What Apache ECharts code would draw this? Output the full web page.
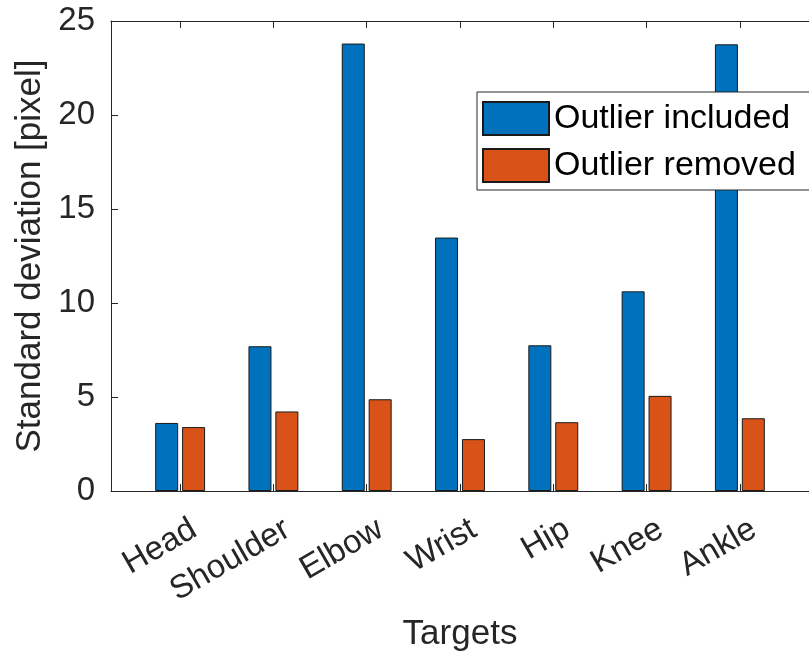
<!DOCTYPE html>
<html><head><meta charset="utf-8">
<script src="https://cdn.jsdelivr.net/npm/echarts@6/dist/echarts.min.js"></script>
<style>html,body{margin:0;padding:0;background:#fff}#c{width:809px;height:657px}</style>
</head><body><div id="c"></div>
<script>
const categories = ["Head","Shoulder","Elbow","Wrist","Hip","Knee","Ankle"];
const outlierIncluded = [3.62, 7.70, 23.80, 13.48, 7.75, 10.62, 23.76];
const outlierRemoved = [3.40, 4.23, 4.88, 2.76, 3.66, 5.06, 3.87];
const yTicks = [0, 5, 10, 15, 20, 25];

const positions = categories.map((_, i) => i + 1);
const labelPositions = positions.map(p => p + 0.15);
const FONT = '"Liberation Sans", Arial, Helvetica, sans-serif';
const TXT = '#262626';
const AX = '#262626';

const chart = echarts.init(document.getElementById('c'), null, {renderer: 'canvas'});
chart.setOption({
  animation: false,
  backgroundColor: '#ffffff',
  textStyle: {fontFamily: FONT},
  grid: {left: 111, top: 21, bottom: 165, right: -9, containLabel: false},
  legend: {
    orient: 'vertical', left: 477, top: 92,
    padding: [9, 15, 7, 5], itemGap: 12,
    itemWidth: 66, itemHeight: 33, icon: 'rect',
    backgroundColor: '#ffffff', borderColor: '#262626', borderWidth: 1,
    textStyle: {fontSize: 34, lineHeight: 33, color: '#000', fontFamily: FONT},
    data: ['Outlier included', 'Outlier removed']
  },
  xAxis: [{
    type: 'value', min: 0.259, max: 7.741, position: 'bottom',
    name: 'Targets', nameLocation: 'middle', nameGap: 126,
    nameTextStyle: {fontSize: 35, color: TXT, fontFamily: FONT},
    splitLine: {show: false},
    axisLine: {show: true, lineStyle: {color: AX, width: 1}},
    axisTick: {show: true, inside: true, length: 7, customValues: positions, lineStyle: {color: AX}},
    axisLabel: {show: true, customValues: labelPositions, rotate: 30, margin: 36,
      fontSize: 33, color: TXT, fontFamily: FONT,
      formatter: v => categories[Math.round(v) - 1] || ''}
  }, {
    type: 'value', min: 0.259, max: 7.741, position: 'top',
    splitLine: {show: false},
    axisLine: {show: true, lineStyle: {color: AX, width: 1}},
    axisTick: {show: true, inside: true, length: 7, customValues: positions, lineStyle: {color: AX}},
    axisLabel: {show: false}
  }],
  yAxis: {
    type: 'value', min: 0, max: 25, interval: 5,
    name: 'Standard deviation [pixel]', nameLocation: 'middle', nameGap: 58,
    nameTextStyle: {fontSize: 35, color: TXT, fontFamily: FONT},
    splitLine: {show: false},
    axisLine: {show: true, lineStyle: {color: AX, width: 1}},
    axisTick: {show: true, inside: true, length: 7, lineStyle: {color: AX}},
    axisLabel: {fontSize: 33, color: TXT, margin: 16, fontFamily: FONT,
      customValues: yTicks}
  },
  series: [{
    name: 'Outlier included', type: 'bar', xAxisIndex: 0,
    barWidth: 23, barGap: '17%',
    itemStyle: {color: '#0072BD', borderColor: '#1a1a1a', borderWidth: 1},
    data: positions.map((p, i) => [p, outlierIncluded[i]])
  }, {
    name: 'Outlier removed', type: 'bar', xAxisIndex: 0,
    barWidth: 23, barGap: '17%',
    itemStyle: {color: '#D95319', borderColor: '#1a1a1a', borderWidth: 1},
    data: positions.map((p, i) => [p, outlierRemoved[i]])
  }]
});
</script></body></html>
